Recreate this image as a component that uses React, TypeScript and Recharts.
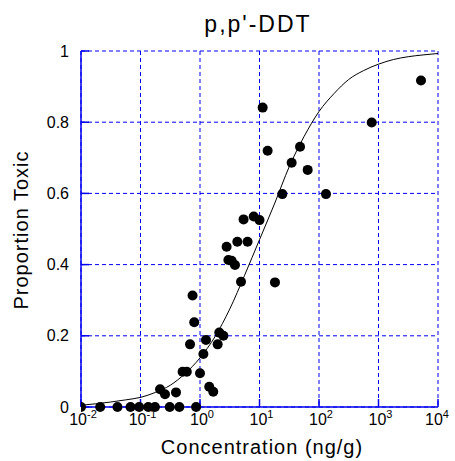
import React from 'react'
import { ComposedChart, Line, Scatter, XAxis, YAxis, CartesianGrid } from 'recharts'

const FONT = '"Liberation Sans", Arial, sans-serif'
const BLUE = '#0000ee'

// fitted dose-response curve at quarter decades
const curveConc = [0.01, 0.0178, 0.0316, 0.0562, 0.1, 0.178, 0.316, 0.562, 1, 1.78, 3.16, 5.62, 10, 17.8, 31.6, 56.2, 100, 178, 316, 562, 1000, 1778, 3162, 5623, 10000]
const curveProp = [0.005, 0.009, 0.014, 0.02, 0.027, 0.041, 0.061, 0.094, 0.138, 0.197, 0.275, 0.37, 0.47, 0.57, 0.675, 0.76, 0.83, 0.88, 0.92, 0.945, 0.963, 0.976, 0.984, 0.989, 0.993]

// observed samples
const obsConc = [
  0.01, 0.021, 0.041, 0.068, 0.095, 0.135, 0.175, 0.31, 0.45, 0.86,
  0.213, 0.258, 0.395, 0.51, 0.6, 0.68, 0.75, 0.8, 1.0, 1.14, 1.26, 1.43, 1.67,
  1.98, 2.11, 2.47, 2.8, 3.0, 3.4, 3.87, 4.24, 4.89, 6.3, 5.4, 8.0, 10,
  11.3, 13.7, 18.2, 24.2, 34.7, 48, 64.5, 131, 769, 5180,
]
const obsProp = [
  0, 0, 0, 0, 0, 0, 0, 0, 0, 0,
  0.05, 0.036, 0.041, 0.099, 0.099, 0.176, 0.313, 0.238, 0.095, 0.149, 0.188, 0.057, 0.043,
  0.176, 0.209, 0.2, 0.45, 0.413, 0.411, 0.399, 0.464, 0.352, 0.464, 0.527, 0.535, 0.525,
  0.841, 0.72, 0.35, 0.598, 0.686, 0.731, 0.666, 0.598, 0.799, 0.917,
]

const xTicks = [0.01, 0.1, 1, 10, 100, 1000, 10000]
const yTicks = [0, 0.2, 0.4, 0.6, 0.8, 1]

const curve = curveConc.map((x, i) => ({ x, y: curveProp[i] }))
const points = obsConc.map((x, i) => ({ x, y: obsProp[i] }))

const LogTick = (props: any) => {
  const { x, y, payload } = props
  const e = Math.round(Math.log10(payload.value))
  return (
    <text x={x + 2} y={y + 18} textAnchor="middle" fontSize={16} fill="#000" fontFamily={FONT}>
      <tspan>10</tspan>
      <tspan dy={-7} fontSize={11}>{e}</tspan>
    </text>
  )
}

const Dot = (props: any) => <circle cx={props.cx} cy={props.cy} r={5} fill="#000" />

const NoTick = () => <g />

export default function App() {
  return (
    <div style={{ position: 'absolute', left: 0, top: 0, width: 455, height: 461, background: '#fff' }}>
      <ComposedChart width={455} height={461} margin={{ top: 51, right: 17, bottom: 0, left: 0 }}>
        <CartesianGrid stroke={BLUE} strokeDasharray="4 3" />
        <XAxis
          dataKey="x"
          type="number"
          scale="log"
          domain={[0.01, 10000]}
          ticks={xTicks}
          allowDataOverflow
          height={54}
          tickSize={-8}
          tickMargin={8}
          stroke={BLUE}
          strokeWidth={1.5}
          tick={<LogTick />}
        />
        <XAxis
          xAxisId="top"
          orientation="top"
          dataKey="x"
          type="number"
          scale="log"
          domain={[0.01, 10000]}
          ticks={xTicks}
          allowDataOverflow
          height={0}
          tickSize={-8}
          stroke={BLUE}
          strokeWidth={1.5}
          tick={<NoTick />}
        />
        <YAxis
          type="number"
          domain={[0, 1]}
          ticks={yTicks}
          width={81}
          tickSize={-8}
          tickMargin={20}
          stroke={BLUE}
          strokeWidth={1.5}
          tick={{ fill: '#000', fontSize: 16, fontFamily: FONT }}
        />
        <YAxis
          yAxisId="right"
          orientation="right"
          type="number"
          domain={[0, 1]}
          ticks={yTicks}
          width={0}
          tickSize={-8}
          stroke={BLUE}
          strokeWidth={1.5}
          tick={<NoTick />}
        />
        <Line data={curve} dataKey="y" type="monotone" stroke="#000" strokeWidth={1} dot={false} isAnimationActive={false} />
        <Scatter data={points} dataKey="y" shape={<Dot />} isAnimationActive={false} />
      </ComposedChart>
      <svg width={455} height={461} style={{ position: 'absolute', left: 0, top: 0, pointerEvents: 'none' }}>
        <text x={258} y={32} textAnchor="middle" fontSize={23} letterSpacing={2} fontFamily={FONT} fill="#000">
          p,p'-DDT
        </text>
        <text x={262} y={454} textAnchor="middle" fontSize={20} letterSpacing={1} fontFamily={FONT} fill="#000">
          Concentration (ng/g)
        </text>
        <text
          x={28}
          y={230}
          textAnchor="middle"
          fontSize={20}
          letterSpacing={1}
          fontFamily={FONT}
          fill="#000"
          transform="rotate(-90 28 230)"
        >
          Proportion Toxic
        </text>
      </svg>
    </div>
  )
}
